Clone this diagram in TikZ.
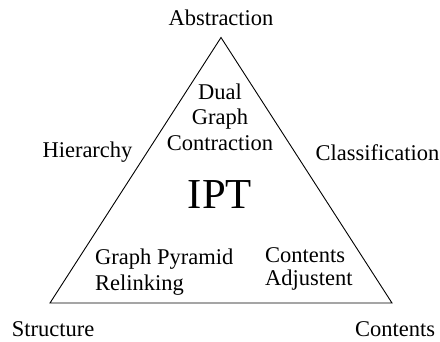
\documentclass[tikz,border=0pt]{standalone}
\usepackage{fontspec}
\setmainfont{Liberation Serif}

\begin{document}
\begin{tikzpicture}[x=1pt,y=-1pt,
    lbl/.style={font=\fontsize{22.5}{25.5}\selectfont,inner sep=0pt,anchor=base}]
  \useasboundingbox (0,0) rectangle (440,341);
  \draw[line width=0.9pt]
    (221,37.5) coordinate (A)
    -- (50,303) coordinate (S)
    -- (392,303) coordinate (C)
    -- cycle;
  % corners
  \node[lbl] (abstraction) at (221,25) {Abstraction};
  \node[lbl] (structure) at (53,336) {Structure};
  \node[lbl] (contents) at (395,336) {Contents};
  % sides
  \node[lbl] (hierarchy) at (87.5,157) {Hierarchy};
  \node[lbl] (classification) at (377.5,160) {Classification};
  % inside (base = last line)
  \node[lbl,font=\fontsize{42.7}{48}\selectfont] (ipt) at (220,208) {IPT};
  \node[lbl,align=center] (dgc) at (220,150) {Dual\\Graph\\Contraction};
  \node[lbl,align=left,anchor=base west] (gpr) at (95,290) {Graph Pyramid\\Relinking};
  \node[lbl,align=left,anchor=base west,font=\fontsize{22.5}{23}\selectfont] (ca) at (265,285) {Contents\\Adjustent};
\end{tikzpicture}
\end{document}
